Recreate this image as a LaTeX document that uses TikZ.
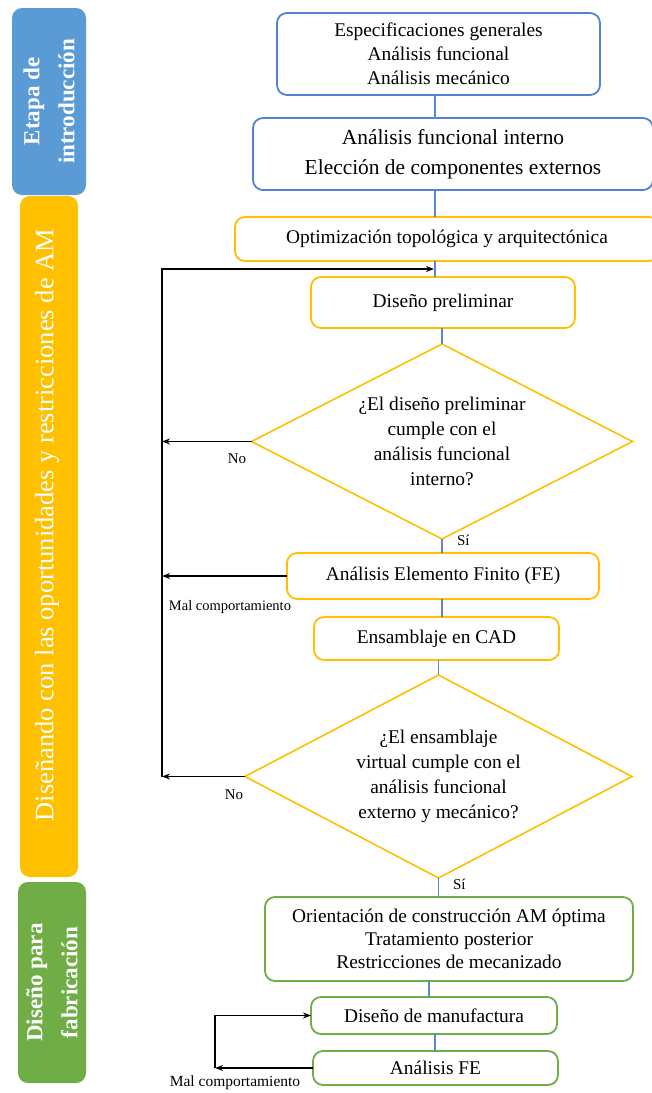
\documentclass[tikz,border=0pt]{standalone}
\usepackage{fontspec}
\setmainfont{Liberation Serif}
\usetikzlibrary{shapes.geometric,arrows.meta}
\definecolor{barblue}{RGB}{91,155,213}
\definecolor{bargold}{RGB}{255,192,0}
\definecolor{bargreen}{RGB}{112,173,71}
\definecolor{edgeblue}{RGB}{84,130,210}
\definecolor{linkblue}{RGB}{90,135,210}

\begin{document}
\begin{tikzpicture}[x=1pt,y=-1pt,
  every node/.style={inner sep=0pt, outer sep=0pt},
  txt/.style={font=\fontsize{19.4}{24}\selectfont, align=center},
  stagebox/.style={txt, draw, rounded corners=10pt, line width=1.8pt, fill=white},
  introbox/.style={stagebox, draw=edgeblue},
  designbox/.style={stagebox, draw=bargold},
  fabbox/.style={stagebox, draw=bargreen},
  decision/.style={diamond, draw=bargold, line width=1.6pt, aspect=1.95,
    align=center, font=\fontsize{19.4}{25}\selectfont},
  phase/.style={rounded corners=10pt, text=white, align=center, rotate=90},
  link/.style={draw=linkblue, line width=1.6pt},
  back/.style={draw=black, line width=1.4pt, -{Stealth[length=8pt,width=6pt]}},
  answer/.style={font=\fontsize{15}{15}\selectfont},
  remark/.style={font=\fontsize{14.5}{14.5}\selectfont},
]
\useasboundingbox (0,0) rectangle (652,1093);
\fill[white] (0,0) rectangle (652,1093);

% phase bars on the left
\node[phase, fill=barblue, minimum width=187pt, minimum height=74pt,
  font=\bfseries\fontsize{23}{35}\selectfont] (p1) at (49,101.5) {Etapa de\\introducción};
\node[phase, fill=bargold, minimum width=681pt, minimum height=58pt] (p2) at (49,536.5) {};
\node[phase, font=\fontsize{26.5}{30}\selectfont] (p2label) at (47,525)
  {Diseñando con las oportunidades y restricciones de AM};
\node[phase, fill=bargreen, minimum width=201pt, minimum height=68pt,
  font=\bfseries\fontsize{23}{35}\selectfont] (p3) at (52,982.5) {Diseño para\\fabricación};

% flow steps
\node[introbox, minimum width=323pt, minimum height=82pt] (b1) at (438.5,54)
  {Especificaciones generales\\Análisis funcional\\Análisis mecánico};
\node[introbox, minimum width=400pt, minimum height=72pt,
  font=\fontsize{21.4}{30}\selectfont] (b2) at (453,154)
  {Análisis funcional interno\\Elección de componentes externos};
\node[designbox, minimum width=424pt, minimum height=44pt] (b3) at (447,239)
  {Optimización topológica y arquitectónica};
\node[designbox, minimum width=264pt, minimum height=51pt] (b4) at (443,302.5)
  {Diseño preliminar};
\node[decision, minimum width=381pt, minimum height=195pt] (d1) at (442,441.5)
  {¿El diseño preliminar\\cumple con el\\análisis funcional\\interno?};
\node[designbox, minimum width=312pt, minimum height=46pt] (b5) at (443,576)
  {Análisis Elemento Finito (FE)};
\node[designbox, minimum width=245pt, minimum height=43pt] (b6) at (436.5,638.5)
  {Ensamblaje en CAD};
\node[decision, minimum width=387pt, minimum height=203pt] (d2) at (438.5,776.5)
  {¿El ensamblaje\\virtual cumple con el\\análisis funcional\\externo y mecánico?};
\node[fabbox, minimum width=368pt, minimum height=84pt,
  font=\fontsize{19.4}{23}\selectfont] (b7) at (449,939)
  {Orientación de construcción AM óptima\\Tratamiento posterior\\Restricciones de mecanizado};
\node[fabbox, minimum width=246pt, minimum height=37pt] (b8) at (434,1015.5)
  {Diseño de manufactura};
\node[fabbox, minimum width=245pt, minimum height=34pt] (b9) at (435.5,1068)
  {Análisis FE};

% vertical links between steps
\coordinate (spine) at (435,0);
\draw[link] (b1.south -| spine) -- (b2.north -| spine);
\draw[link] (b2.south -| spine) -- (b3.north -| spine);
\draw[link] (b3.south -| spine) -- (b4.north -| spine);
\draw[link] (b4.south -| d1.north) -- (d1.north);
\draw[link] (d1.south) -- (b5.north -| d1.south);
\draw[link] (b5.south -| d1.south) -- (b6.north -| d1.south);
\draw[link] (b6.south -| d2.north) -- (d2.north);
\draw[link] (d2.south) -- (b7.north -| d2.south);
\coordinate (fabspine) at (429,0);
\draw[link] (b7.south -| fabspine) -- (b8.north -| fabspine);
\draw[link] (b8.south -| spine) -- (b9.north -| spine);

% feedback loop of the design stage
\coordinate (rail) at (162,0);
\coordinate (reentry) at (434,269);
\draw[back] (d1.west) -- (d1.west -| rail);
\draw[back] (b5.west) -- (b5.west -| rail);
\draw[back] (d2.west) -- (d2.west -| rail);
\draw[back] (d2.west -| rail) -- (rail |- reentry) -- (reentry);

% feedback loop of the fabrication stage
\coordinate (loop) at (215,0);
\draw[back] (b9.west) -- (b9.west -| loop);
\draw[back] (b9.west -| loop) -- (loop |- b8.west) -- (b8.west);

% branch labels
\node[answer] (no1) at (237,459) {No};
\node[answer, anchor=west] (si1) at (457,540) {Sí};
\node[remark] (mal1) at (230,607) {Mal comportamiento};
\node[answer] (no2) at (234,795) {No};
\node[answer, anchor=west] (si2) at (453,884) {Sí};
\node[remark, font=\fontsize{15.5}{15.5}\selectfont] (mal2) at (235,1083) {Mal comportamiento};
\end{tikzpicture}
\end{document}
